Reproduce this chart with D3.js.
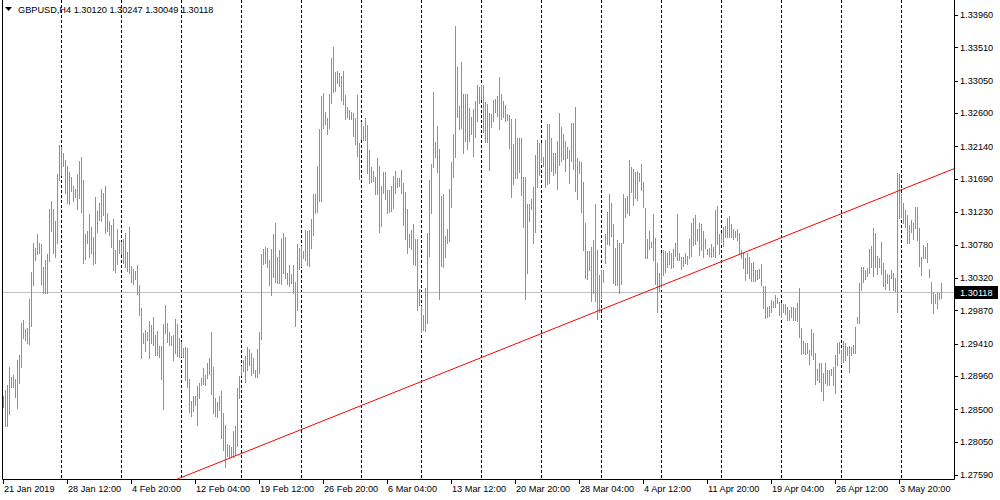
<!DOCTYPE html>
<html><head><meta charset="utf-8">
<script src="https://cdn.jsdelivr.net/npm/d3@7"></script>
<style>
html,body{margin:0;padding:0;background:#fff}
svg{display:block}
text{font-family:"Liberation Sans",Arial,sans-serif;font-size:9.2px;fill:#000}
</style></head>
<body><svg id="chart" width="1000" height="500"></svg>
<script>
// ---- data (GBPUSD H4, bar highs and lows, one per 4h bar from 21 Jan 2019 04:00) ----
const symbol = "GBPUSD,H4";
const lastBarOHLC = ["1.30120", "1.30247", "1.30049", "1.30118"];
const lastPrice = 1.30118;

const highs = [
1.2869,1.2877,1.2884,1.2909,1.2895,1.2898,1.2892,1.2918,1.2925,1.2970,
1.2974,1.2961,1.2963,1.3003,1.3040,1.3080,1.3073,1.3093,1.3080,1.3079,
1.3047,1.3057,1.3065,1.3127,1.3139,1.3127,1.3111,1.3176,1.3216,1.3213,
1.3205,1.3195,1.3187,1.3179,1.3172,1.3159,1.3155,1.3176,1.3194,1.3200,
1.3168,1.3093,1.3097,1.3121,1.3103,1.3089,1.3144,1.3125,1.3136,1.3155,
1.3150,1.3159,1.3122,1.3111,1.3105,1.3114,1.3071,1.3100,1.3085,1.3082,
1.3086,1.3094,1.3068,1.3103,1.3049,1.3044,1.3042,1.3050,1.3022,1.2990,
1.2956,1.2960,1.2957,1.2972,1.2967,1.2978,1.2953,1.2959,1.2938,1.2938,
1.2968,1.2995,1.2970,1.2957,1.2952,1.2953,1.2975,1.2968,1.2949,1.2943,
1.2935,1.2936,1.2935,1.2892,1.2862,1.2868,1.2868,1.2882,1.2887,1.2893,
1.2907,1.2898,1.2914,1.2921,1.2957,1.2909,1.2866,1.2860,1.2868,1.2875,
1.2845,1.2828,1.2802,1.2801,1.2798,1.2820,1.2827,1.2880,1.2896,1.2910,
1.2918,1.2924,1.2936,1.2934,1.2928,1.2921,1.2905,1.2934,1.2957,1.3065,
1.3072,1.3075,1.3073,1.3057,1.3072,1.3093,1.3108,1.3061,1.3071,1.3086,
1.3094,1.3089,1.3039,1.3050,1.3038,1.3050,1.3026,1.3079,1.3073,1.3076,
1.3069,1.3098,1.3097,1.3098,1.3114,1.3148,1.3148,1.3187,1.3238,1.3284,
1.3288,1.3262,1.3254,1.3287,1.3337,1.3351,1.3317,1.3319,1.3316,1.3312,
1.3319,1.3285,1.3269,1.3265,1.3262,1.3260,1.3254,1.3285,1.3219,1.3248,
1.3242,1.3254,1.3244,1.3209,1.3186,1.3180,1.3172,1.3198,1.3187,1.3159,
1.3179,1.3179,1.3154,1.3154,1.3159,1.3173,1.3180,1.3170,1.3170,1.3182,
1.3163,1.3151,1.3127,1.3093,1.3098,1.3107,1.3086,1.3086,1.3017,1.2993,
1.2981,1.3018,1.3094,1.3168,1.3190,1.3290,1.3220,1.3242,1.3211,1.3146,
1.3148,1.3090,1.3100,1.3155,1.3193,1.3231,1.3381,1.3324,1.3270,1.3331,
1.3287,1.3287,1.3287,1.3267,1.3255,1.3266,1.3277,1.3299,1.3296,1.3299,
1.3299,1.3276,1.3273,1.3260,1.3259,1.3278,1.3280,1.3284,1.3310,1.3287,
1.3277,1.3272,1.3259,1.3258,1.3252,1.3218,1.3252,1.3226,1.3226,1.3226,
1.3172,1.3171,1.3134,1.3134,1.3141,1.3158,1.3202,1.3223,1.3219,1.3219,
1.3200,1.3223,1.3245,1.3245,1.3226,1.3205,1.3205,1.3222,1.3260,1.3241,
1.3231,1.3222,1.3213,1.3209,1.3247,1.3247,1.3269,1.3198,1.3194,1.3193,
1.3165,1.3108,1.3069,1.3069,1.3075,1.3085,1.3134,1.3071,1.3036,1.3043,
1.3043,1.3093,1.3123,1.3148,1.3136,1.3107,1.3073,1.3085,1.3080,1.3080,
1.3148,1.3143,1.3146,1.3195,1.3186,1.3183,1.3179,1.3180,1.3177,1.3190,
1.3165,1.3129,1.3086,1.3097,1.3082,1.3121,1.3087,1.3053,1.3039,1.3067,
1.3071,1.3069,1.3067,1.3069,1.3067,1.3072,1.3080,1.3121,1.3067,1.3061,
1.3061,1.3067,1.3062,1.3086,1.3108,1.3115,1.3119,1.3100,1.3108,1.3107,
1.3097,1.3086,1.3072,1.3073,1.3079,1.3075,1.3126,1.3132,1.3093,1.3094,
1.3103,1.3104,1.3115,1.3118,1.3107,1.3100,1.3097,1.3100,1.3094,1.3071,
1.3067,1.3060,1.3067,1.3061,1.3053,1.3054,1.3043,1.3043,1.3044,1.3051,
1.3021,1.3021,1.2992,1.2993,1.3002,1.3000,1.3008,1.3004,1.2999,1.2997,
1.2996,1.2996,1.2992,1.2988,1.2992,1.2992,1.2990,1.2997,1.3018,1.2963,
1.2945,1.2942,1.2942,1.2932,1.2961,1.2956,1.2928,1.2906,1.2914,1.2914,
1.2900,1.2914,1.2905,1.2905,1.2906,1.2909,1.2925,1.2942,1.2943,1.2932,
1.2945,1.2942,1.2936,1.2938,1.2936,1.2939,1.2964,1.2978,1.3025,1.3047,
1.3047,1.3043,1.3046,1.3072,1.3076,1.3101,1.3094,1.3062,1.3060,1.3082,
1.3053,1.3043,1.3038,1.3036,1.3043,1.3039,1.3032,1.3177,1.3176,1.3148,
1.3136,1.3126,1.3119,1.3105,1.3112,1.3108,1.3130,1.3130,1.3101,1.3061,
1.3078,1.3075,1.3080,1.3044,1.3026,1.3012,1.3010,1.3012,1.3011,1.3025
];

const lows = [
1.2853,1.2827,1.2827,1.2844,1.2881,1.2881,1.2867,1.2852,1.2886,1.2909,
1.2949,1.2946,1.2942,1.2941,1.2965,1.3022,1.3057,1.3065,1.3067,1.3024,
1.3011,1.3011,1.3011,1.3055,1.3097,1.3067,1.3061,1.3080,1.3168,1.3175,
1.3187,1.3150,1.3136,1.3134,1.3152,1.3139,1.3144,1.3127,1.3143,1.3123,
1.3053,1.3058,1.3080,1.3061,1.3067,1.3051,1.3053,1.3096,1.3112,1.3111,
1.3119,1.3094,1.3097,1.3092,1.3075,1.3043,1.3040,1.3051,1.3067,1.3065,
1.3053,1.3047,1.3042,1.3039,1.3026,1.3024,1.3031,1.3010,1.2981,1.2921,
1.2942,1.2931,1.2946,1.2921,1.2942,1.2939,1.2925,1.2925,1.2923,1.2892,
1.2850,1.2956,1.2943,1.2939,1.2939,1.2918,1.2928,1.2924,1.2923,1.2924,
1.2923,1.2891,1.2881,1.2846,1.2841,1.2848,1.2856,1.2828,1.2866,1.2884,
1.2885,1.2884,1.2893,1.2899,1.2871,1.2845,1.2841,1.2839,1.2849,1.2810,
1.2794,1.2770,1.2785,1.2784,1.2784,1.2784,1.2787,1.2799,1.2866,1.2898,
1.2903,1.2888,1.2905,1.2911,1.2898,1.2900,1.2895,1.2895,1.2900,1.2947,
1.3051,1.3053,1.3047,1.3022,1.3008,1.3033,1.3026,1.3025,1.3025,1.3024,
1.3039,1.3032,1.3024,1.3021,1.3025,1.3011,1.2965,1.2988,1.3044,1.3049,
1.3060,1.3057,1.3050,1.3049,1.3073,1.3092,1.3122,1.3123,1.3139,1.3139,
1.3240,1.3245,1.3231,1.3240,1.3274,1.3290,1.3291,1.3302,1.3298,1.3278,
1.3273,1.3252,1.3255,1.3252,1.3252,1.3229,1.3218,1.3201,1.3169,1.3224,
1.3223,1.3223,1.3177,1.3164,1.3165,1.3166,1.3148,1.3148,1.3096,1.3104,
1.3150,1.3141,1.3122,1.3123,1.3125,1.3129,1.3150,1.3158,1.3159,1.3150,
1.3105,1.3086,1.3067,1.3075,1.3072,1.3051,1.3050,1.2988,1.2995,1.2957,
1.2960,1.2959,1.2970,1.3062,1.3122,1.3186,1.3200,1.3179,1.3003,1.3049,
1.3047,1.3061,1.3080,1.3083,1.3130,1.3172,1.3200,1.3255,1.3238,1.3240,
1.3205,1.3222,1.3211,1.3222,1.3231,1.3201,1.3227,1.3249,1.3274,1.3280,
1.3234,1.3220,1.3220,1.3182,1.3241,1.3249,1.3262,1.3256,1.3238,1.3252,
1.3255,1.3249,1.3251,1.3212,1.3144,1.3162,1.3170,1.3170,1.3179,1.3147,
1.3103,1.3003,1.3039,1.3111,1.3127,1.3080,1.3096,1.3158,1.3175,1.3193,
1.3187,1.3158,1.3162,1.3164,1.3180,1.3175,1.3177,1.3155,1.3188,1.3194,
1.3197,1.3180,1.3198,1.3164,1.3194,1.3183,1.3152,1.3141,1.3177,1.3123,
1.3071,1.3032,1.3031,1.3043,1.3000,1.3011,1.3000,1.2975,1.2985,1.3004,
1.3026,1.3053,1.3079,1.3078,1.3090,1.3025,1.3022,1.3022,1.3011,1.3024,
1.3080,1.3116,1.3122,1.3119,1.3151,1.3133,1.3143,1.3140,1.3166,1.3154,
1.3130,1.3060,1.3060,1.3072,1.3075,1.3057,1.3024,1.2985,1.3014,1.3019,
1.3036,1.3040,1.3047,1.3051,1.3046,1.3047,1.3062,1.3057,1.3057,1.3044,
1.3049,1.3053,1.3051,1.3060,1.3062,1.3078,1.3079,1.3085,1.3064,1.3071,
1.3061,1.3073,1.3065,1.3062,1.3061,1.3062,1.3061,1.3079,1.3065,1.3082,
1.3076,1.3089,1.3089,1.3089,1.3089,1.3086,1.3089,1.3085,1.3067,1.3060,
1.3046,1.3029,1.3039,1.3032,1.3028,1.3028,1.3028,1.3031,1.3032,1.3022,
1.2990,1.2977,1.2978,1.2979,1.2985,1.2992,1.2992,1.2997,1.2981,1.2978,
1.2985,1.2982,1.2974,1.2974,1.2978,1.2974,1.2974,1.2972,1.2950,1.2927,
1.2928,1.2927,1.2928,1.2913,1.2925,1.2920,1.2885,1.2891,1.2888,1.2875,
1.2863,1.2886,1.2884,1.2884,1.2898,1.2884,1.2873,1.2911,1.2928,1.2914,
1.2916,1.2918,1.2925,1.2902,1.2925,1.2928,1.2928,1.2970,1.2970,1.3015,
1.3026,1.3031,1.3035,1.3039,1.3047,1.3035,1.3047,1.3038,1.3047,1.3038,
1.3021,1.3017,1.3025,1.3015,1.3032,1.3015,1.3014,1.2985,1.3115,1.3116,
1.3108,1.3103,1.3080,1.3080,1.3096,1.3086,1.3101,1.3085,1.3049,1.3036,
1.3060,1.3060,1.3054,1.3033,1.2997,1.2983,1.2997,1.2990,1.3003,1.3004
];

const priceTicks = [1.33960,1.33510,1.33050,1.32600,1.32140,1.31690,1.31230,
  1.30780,1.30320,1.29870,1.29410,1.28960,1.28500,1.28050,1.27590];

const timeLabels = ["21 Jan 2019","28 Jan 12:00","4 Feb 20:00","12 Feb 04:00",
  "19 Feb 12:00","26 Feb 20:00","6 Mar 04:00","13 Mar 12:00","20 Mar 20:00",
  "28 Mar 04:00","4 Apr 12:00","11 Apr 20:00","19 Apr 04:00","26 Apr 12:00","3 May 20:00"];
const timeLabelBars = [0,32,64,96,128,160,192,224,256,288,320,352,384,416,448];

// weekly period separators (Monday 00:00 bars)
const separatorBars = [29,59,89,119,149,179,209,239,269,299,329,359,389,419,449];

// trend line anchors (bar index, price)
const trendBars = [99.5, 469];
const trendPrices = [1.2767, 1.3176];

// ---- drawing ----
const svg = d3.select("#chart");
const plot = {left: 2, right: 954, top: 0, bottom: 479};

const x = d3.scaleLinear().domain([0, 469]).range([3, 941]);
const y = d3.scaleLinear().domain([1.27590, 1.33960]).range([475, 15]);

svg.append("defs").append("clipPath").attr("id","clip")
  .append("rect").attr("x",plot.left).attr("y",plot.top)
  .attr("width",plot.right-plot.left).attr("height",plot.bottom-plot.top);

const g = svg.append("g").attr("clip-path","url(#clip)");

// separators
g.selectAll("line.sep").data(separatorBars).join("line").attr("class","sep")
  .attr("x1", d => Math.round(x(d)) + 0.5).attr("x2", d => Math.round(x(d)) + 0.5)
  .attr("y1", plot.top).attr("y2", plot.bottom)
  .attr("stroke","#000").attr("stroke-width",1).attr("stroke-dasharray","3,2");

// current price line
g.append("line")
  .attr("x1", plot.left).attr("x2", plot.right)
  .attr("y1", Math.round(y(lastPrice)) + 0.5).attr("y2", Math.round(y(lastPrice)) + 0.5)
  .attr("stroke","#c0c0c0").attr("stroke-width",1);

// bars
g.selectAll("line.bar").data(d3.range(highs.length)).join("line").attr("class","bar")
  .attr("x1", i => Math.round(x(i)) + 0.5).attr("x2", i => Math.round(x(i)) + 0.5)
  .attr("y1", i => Math.round(y(highs[i])))
  .attr("y2", i => Math.round(y(lows[i])) + 1)
  .attr("stroke","#6699cc").attr("stroke-width",1);

// trend line (ray extended across the plot)
const slope = (trendPrices[1]-trendPrices[0])/(trendBars[1]-trendBars[0]);
const bStart = x.invert(plot.left), bEnd = x.invert(plot.right);
g.append("line")
  .attr("x1", x(bStart)).attr("y1", y(trendPrices[0] + slope*(bStart-trendBars[0])))
  .attr("x2", x(bEnd)).attr("y2", y(trendPrices[0] + slope*(bEnd-trendBars[0])))
  .attr("stroke","#ff0000").attr("stroke-width",1);

// frame
svg.append("path")
  .attr("d", `M${plot.left+0.5},${plot.top} V${plot.bottom+0.5} H${plot.right+0.5} V${plot.top}`)
  .attr("fill","none").attr("stroke","#000").attr("stroke-width",1);

// price axis
const pa = svg.append("g");
pa.selectAll("line").data(priceTicks).join("line")
  .attr("x1", plot.right+1).attr("x2", plot.right+4)
  .attr("y1", d => Math.round(y(d))+0.5).attr("y2", d => Math.round(y(d))+0.5)
  .attr("stroke","#000");
pa.selectAll("text").data(priceTicks).join("text")
  .attr("x", plot.right+6).attr("y", d => y(d)).attr("dy","0.35em")
  .text(d => d.toFixed(5));

// last price label
const lpY = Math.round(y(lastPrice));
svg.append("rect").attr("x", plot.right+1).attr("y", lpY-6).attr("width", 43).attr("height", 13).attr("fill","#000");
svg.append("text").attr("x", plot.right+6).attr("y", lpY+0.5).attr("dy","0.35em")
  .style("fill","#fff").text(lastPrice.toFixed(5));

// time axis
const ta = svg.append("g");
ta.selectAll("line").data(timeLabelBars).join("line")
  .attr("x1", d => Math.round(x(d))+0.5).attr("x2", d => Math.round(x(d))+0.5)
  .attr("y1", plot.bottom+1).attr("y2", plot.bottom+5).attr("stroke","#000");
ta.selectAll("text").data(timeLabels).join("text")
  .attr("x", (d,i) => Math.round(x(timeLabelBars[i]))+1).attr("y", 492)
  .text(d => d);

// header
svg.append("path").attr("d","M5,7 L12,7 L8.5,11 Z").attr("fill","#000");
svg.append("text").attr("x", 18).attr("y", 13)
  .text(symbol + "  " + lastBarOHLC.join(" "));
</script></body></html>
